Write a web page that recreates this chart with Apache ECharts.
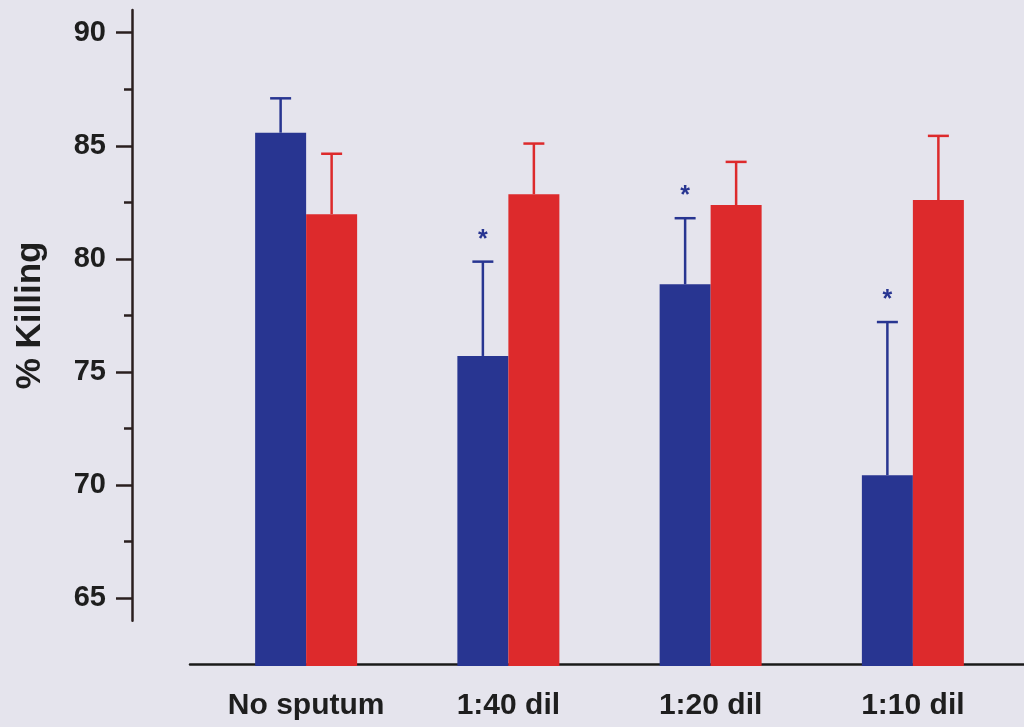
<!DOCTYPE html>
<html>
<head>
<meta charset="utf-8">
<script src="https://cdn.jsdelivr.net/npm/echarts@6/dist/echarts.min.js"></script>
<style>
html,body{margin:0;padding:0;background:#e5e4ed;}
#chart{width:1024px;height:727px;}
</style>
</head>
<body>
<div id="chart"></div>
<script>
var categories = ['No sputum', '1:40 dil', '1:20 dil', '1:10 dil'];
var blueMean = [85.58, 75.71, 78.88, 70.44];
var blueErrTop = [87.1, 79.88, 81.8, 77.21];
var redMean = [81.98, 82.86, 82.38, 82.6];
var redErrTop = [84.65, 85.1, 84.29, 85.44];
var significant = [false, true, true, true];
var yTickValues = [65, 70, 75, 80, 85, 90];
var yMinorTickValues = [67.5, 72.5, 77.5, 82.5, 87.5];

var BLUE = '#283591';
var RED = '#dd2a2c';
var TEXT = '#1e1e1e';
var AXIS = '#2a1f1f';
var FONT = 'Liberation Sans, Arial, sans-serif';
var BAR_W = 51;

var errData = [];
for (var i = 0; i < categories.length; i++) {
  errData.push([i, blueMean[i], blueErrTop[i], -1, significant[i] ? 1 : 0]);
  errData.push([i, redMean[i], redErrTop[i], 1, 0]);
}

var chart = echarts.init(document.getElementById('chart'));
chart.setOption({
  backgroundColor: '#e5e4ed',
  animation: false,
  grid: [
    {left: 205, right: 10, top: 10.1, bottom: 60.9},
    {left: 190, right: 0, top: 10.1, bottom: 62.5},
    {left: 132, width: 20, top: 10.1, bottom: 106.2}
  ],
  xAxis: [
    {
      type: 'category', gridIndex: 0, data: categories,
      axisLine: {show: false}, axisTick: {show: false},
      axisLabel: {interval: 0, hideOverlap: false, color: TEXT, fontFamily: FONT, fontWeight: 'bold', fontSize: 30, margin: 25}
    },
    {
      type: 'value', gridIndex: 1, min: 0, max: 1,
      axisLine: {show: true, lineStyle: {color: '#1a1a1a', width: 2.5}},
      axisTick: {show: false}, axisLabel: {show: false}, splitLine: {show: false}
    },
    {
      type: 'value', gridIndex: 2, min: 0, max: 1, show: false
    }
  ],
  yAxis: [
    {
      type: 'value', gridIndex: 0, min: 62, max: 91, show: false
    },
    {
      type: 'value', gridIndex: 1, min: 0, max: 1, show: false
    },
    {
      type: 'value', gridIndex: 2, min: 64, max: 91, position: 'left',
      name: '% Killing', nameLocation: 'middle', nameGap: 84, nameRotate: 90,
      nameTextStyle: {color: TEXT, fontFamily: FONT, fontWeight: 'bold', fontSize: 35},
      axisLine: {show: true, lineStyle: {color: AXIS, width: 2.5}},
      axisTick: {show: true, customValues: yTickValues, length: 16, lineStyle: {color: AXIS, width: 2.5}},
      axisLabel: {customValues: yTickValues, color: TEXT, fontFamily: FONT, fontWeight: 'bold', fontSize: 29, margin: 26},
      splitLine: {show: false}
    },
    {
      type: 'value', gridIndex: 2, min: 64, max: 91, position: 'left', offset: 0,
      axisLine: {show: false},
      axisTick: {show: true, customValues: yMinorTickValues, length: 8, lineStyle: {color: AXIS, width: 2.5}},
      axisLabel: {show: false},
      splitLine: {show: false}
    }
  ],
  series: [
    {
      type: 'bar', xAxisIndex: 0, yAxisIndex: 0, data: blueMean,
      barWidth: BAR_W, barGap: '0%', itemStyle: {color: BLUE}, z: 5
    },
    {
      type: 'bar', xAxisIndex: 0, yAxisIndex: 0, data: redMean,
      barWidth: BAR_W, barGap: '0%', itemStyle: {color: RED}, z: 5
    },
    {
      type: 'custom', xAxisIndex: 0, yAxisIndex: 0, data: errData, z: 6,
      renderItem: function (params, api) {
        var idx = api.value(0);
        var side = api.value(3);
        var color = side < 0 ? BLUE : RED;
        var base = api.coord([idx, api.value(1)]);
        var top = api.coord([idx, api.value(2)]);
        var x = base[0] + side * BAR_W / 2;
        var half = 10.5;
        var children = [
          {type: 'line', shape: {x1: x, y1: base[1], x2: x, y2: top[1]}, style: {stroke: color, lineWidth: 2.5}},
          {type: 'line', shape: {x1: x - half, y1: top[1], x2: x + half, y2: top[1]}, style: {stroke: color, lineWidth: 2.5}}
        ];
        if (api.value(4) === 1) {
          children.push({
            type: 'text',
            style: {text: '*', x: x, y: top[1] - 22, align: 'center', verticalAlign: 'middle',
              fill: color, font: 'bold 25px ' + FONT}
          });
        }
        return {type: 'group', children: children};
      }
    }
  ]
});
</script>
</body>
</html>
